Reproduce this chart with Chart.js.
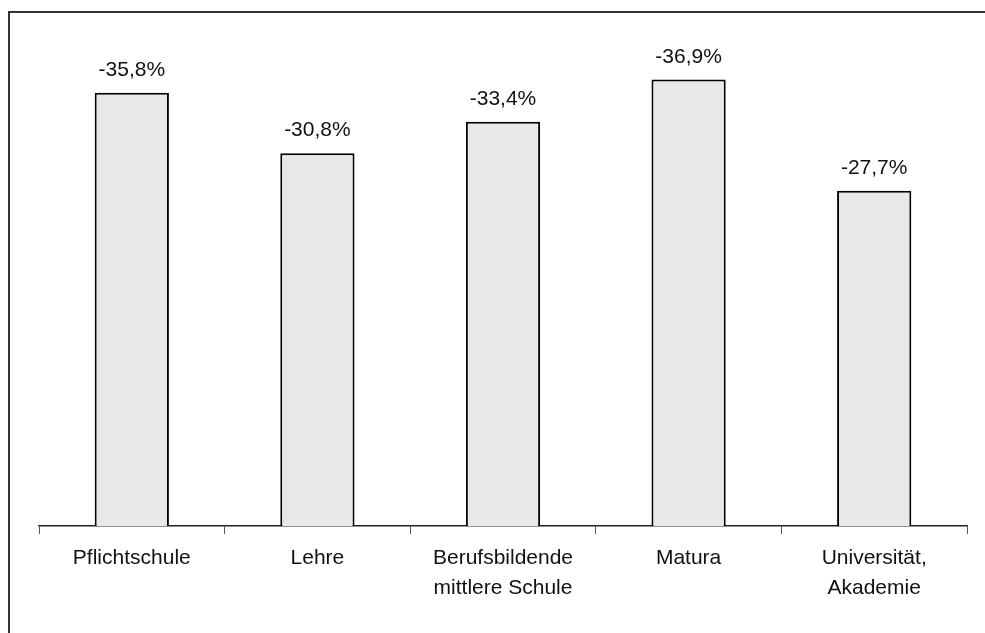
<!DOCTYPE html>
<html>
<head>
<meta charset="utf-8">
<script src="https://cdn.jsdelivr.net/npm/chart.js@4"></script>
<style>
html,body{margin:0;padding:0;background:#fff;}
#wrap{width:985px;height:633px;position:relative;}
</style>
</head>
<body>
<div id="wrap"><canvas id="c"></canvas></div>
<script>
const categories = [
  "Pflichtschule",
  "Lehre",
  ["Berufsbildende", "mittlere Schule"],
  "Matura",
  ["Universität,", "Akademie"]
];
const changePct = [-35.8, -30.8, -33.4, -36.9, -27.7];

const FONT = "'Liberation Sans', Arial, sans-serif";

const framePlugin = {
  id: 'frame',
  beforeDraw(chart) {
    const ctx = chart.ctx;
    ctx.save();
    ctx.fillStyle = '#fff';
    ctx.fillRect(0, 0, chart.width, chart.height);
    ctx.strokeStyle = '#333';
    ctx.lineWidth = 2;
    ctx.beginPath();
    ctx.moveTo(9, chart.height + 5);
    ctx.lineTo(9, 12);
    ctx.lineTo(chart.width + 5, 12);
    ctx.stroke();
    ctx.restore();
  }
};

const valueLabels = {
  id: 'valueLabels',
  afterDatasetsDraw(chart) {
    const ctx = chart.ctx;
    const meta = chart.getDatasetMeta(0);
    ctx.save();
    ctx.font = '21px ' + FONT;
    ctx.fillStyle = '#111';
    ctx.textAlign = 'center';
    ctx.textBaseline = 'alphabetic';
    meta.data.forEach((bar, i) => {
      const v = chart.data.datasets[0].data[i];
      const txt = v.toFixed(1).replace('.', ',') + '%';
      ctx.fillText(txt, bar.x, bar.y - 17);
    });
    ctx.restore();
  }
};

new Chart(document.getElementById('c'), {
  type: 'bar',
  data: {
    labels: categories,
    datasets: [{
      data: changePct,
      backgroundColor: '#e8e8e8',
      borderColor: '#000',
      borderWidth: 2,
      borderSkipped: 'start',
      categoryPercentage: 1,
      barPercentage: 0.4
    }]
  },
  options: {
    responsive: true,
    maintainAspectRatio: false,
    animation: false,
    devicePixelRatio: 1,
    layout: { padding: { left: 39, right: 18, top: 42, bottom: 21 } },
    plugins: {
      legend: { display: false },
      tooltip: { enabled: false },
      title: { display: false }
    },
    scales: {
      x: {
        grid: {
          display: true,
          drawOnChartArea: false,
          drawTicks: true,
          tickLength: 8,
          color: '#555',
          lineWidth: 1,
          offset: true
        },
        border: { display: true, color: '#222', width: 1.5 },
        ticks: {
          color: '#111',
          padding: 9,
          maxRotation: 0,
          autoSkip: false,
          font: { family: FONT, size: 21, lineHeight: 1.43 }
        }
      },
      y: {
        display: false,
        min: -40,
        max: 0,
        reverse: true
      }
    }
  },
  plugins: [framePlugin, valueLabels]
});
</script>
</body>
</html>
